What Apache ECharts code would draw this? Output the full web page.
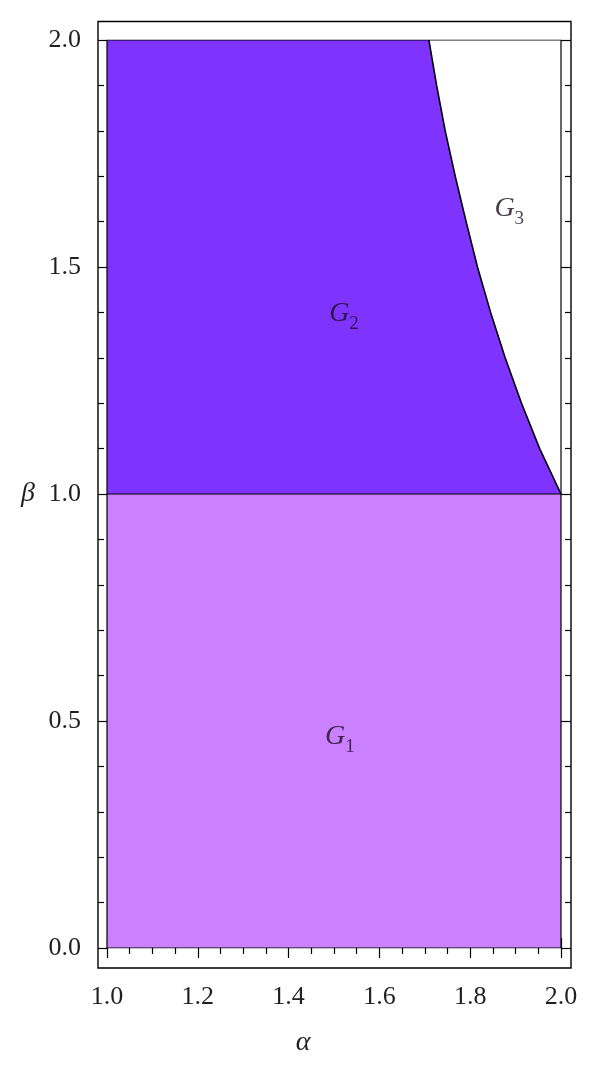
<!DOCTYPE html>
<html>
<head>
<meta charset="utf-8">
<script src="https://cdn.jsdelivr.net/npm/echarts@6/dist/echarts.min.js"></script>
<style>
html,body{margin:0;padding:0;background:#fff;}
#chart{width:600px;height:1068px;}
</style>
</head>
<body>
<div id="chart"></div>
<script>
// Boundary curve between G2 and G3
const curveAlpha = [1.709, 1.726, 1.745, 1.767, 1.791, 1.816, 1.845, 1.877, 1.913, 1.953, 2.0];
const curveBeta  = [2.0, 1.9, 1.8, 1.7, 1.6, 1.5, 1.4, 1.3, 1.2, 1.1, 1.0];
// Region bounds
const alphaRange = [1.0, 2.0];
const betaRange = [0.0, 2.0];
const betaSplit = 1.0;
// Region labels: name, subscript, alpha, beta
const regionNames = ['G', 'G', 'G'];
const regionSubs = ['1', '2', '3'];
const regionAlpha = [1.513, 1.522, 1.886];
const regionBeta = [0.465, 1.398, 1.628];

const curvePts = curveAlpha.map((a, i) => [a, curveBeta[i]]);
const darkPts = [[alphaRange[0], betaRange[1]]].concat(curvePts);
const lightPts = [[alphaRange[0], betaSplit], [alphaRange[1], betaSplit]];
const outline = [[alphaRange[0], betaRange[0]], [alphaRange[0], betaRange[1]], [alphaRange[1], betaRange[1]], [alphaRange[1], betaRange[0]], [alphaRange[0], betaRange[0]]];

const serif = 'Liberation Serif';
const tickStyle = {color: '#000', width: 1.2};

function axisX(pos, offset, showLabel) {
  return {
    type: 'value', position: pos, offset: offset, min: 1, max: 2, interval: 0.2,
    axisLine: {show: false},
    axisTick: {show: true, inside: true, length: 10, lineStyle: tickStyle},
    minorTick: {show: true, splitNumber: 4, length: 6, lineStyle: tickStyle},
    splitLine: {show: false}, minorSplitLine: {show: false},
    axisLabel: {show: showLabel, margin: 16, fontFamily: serif, fontSize: 26, color: '#231f20',
      formatter: v => v.toFixed(1)}
  };
}
function axisY(pos, offset, showLabel) {
  return {
    type: 'value', position: pos, offset: offset, min: 0, max: 2, interval: 0.5,
    axisLine: {show: false},
    axisTick: {show: true, inside: true, length: 10, lineStyle: tickStyle},
    minorTick: {show: true, splitNumber: 5, length: 6, lineStyle: tickStyle},
    splitLine: {show: false}, minorSplitLine: {show: false},
    axisLabel: {show: showLabel, margin: 17, fontFamily: serif, fontSize: 26, color: '#231f20',
      formatter: v => v.toFixed(1)}
  };
}

const chart = echarts.init(document.getElementById('chart'), null, {renderer: 'canvas'});
chart.setOption({
  animation: false,
  backgroundColor: '#fff',
  grid: {left: 107, right: 39, top: 40, bottom: 120, containLabel: false},
  xAxis: [axisX('bottom', 20, true), axisX('top', 18.5, false)],
  yAxis: [axisY('left', 9, true), axisY('right', 10, false)],
  graphic: [
    {type: 'rect', shape: {x: 98, y: 21.5, width: 473, height: 946.5},
     style: {fill: 'none', stroke: '#000', lineWidth: 1.4}, z: 100},
    {type: 'text', x: 303, y: 1043, style: {text: 'α', font: 'italic 28px "Liberation Serif"', fill: '#231f20', textAlign: 'center', textVerticalAlign: 'middle'}},
    {type: 'text', x: 28, y: 494, style: {text: 'β', font: 'italic 28px "Liberation Serif"', fill: '#231f20', textAlign: 'center', textVerticalAlign: 'middle'}}
  ],
  series: [
    {type: 'line', data: darkPts, symbol: 'none', z: 1,
     lineStyle: {width: 0}, areaStyle: {color: '#7f33ff', opacity: 1}},
    {type: 'line', data: lightPts, symbol: 'none', z: 2,
     lineStyle: {color: '#000', width: 1.2}, areaStyle: {color: '#cb80ff', opacity: 1}},
    {type: 'line', data: curvePts, symbol: 'none', z: 3,
     lineStyle: {color: '#000', width: 1.6}},
    {type: 'line', data: outline, symbol: 'none', z: 3,
     lineStyle: {color: '#000', width: 1.2}},
    {type: 'scatter', symbolSize: 0, z: 5,
     data: regionAlpha.map((a, i) => ({value: [a, regionBeta[i]], name: regionNames[i], sub: regionSubs[i]})),
     label: {show: true, position: 'inside',
       formatter: p => '{g|' + p.data.name + '}{s|' + p.data.sub + '}',
       rich: {
         g: {fontFamily: serif, fontStyle: 'italic', fontSize: 28, color: '#1a1020', verticalAlign: 'bottom', lineHeight: 28},
         s: {fontFamily: serif, fontSize: 19, color: '#1a1020', verticalAlign: 'bottom', padding: [0, 0, -6, 0], lineHeight: 28}
       }}
    }
  ]
});
</script>
</body>
</html>
